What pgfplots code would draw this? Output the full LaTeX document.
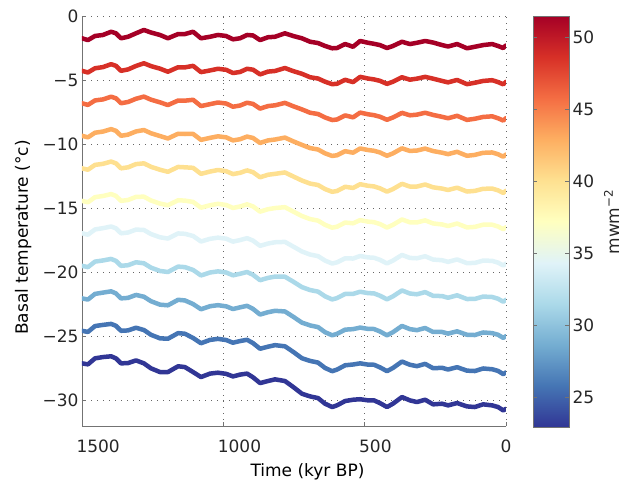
\documentclass[border=0pt]{standalone}
\usepackage{fontspec}
\setmainfont{DejaVu Sans}
\usepackage{pgfplots}
\usepackage{pgfplotstable}
\pgfplotsset{compat=1.18}
\definecolor{c0}{RGB}{165,0,38}
\definecolor{c1}{RGB}{215,48,39}
\definecolor{c2}{RGB}{244,109,67}
\definecolor{c3}{RGB}{253,174,97}
\definecolor{c4}{RGB}{254,224,144}
\definecolor{c5}{RGB}{255,255,191}
\definecolor{c6}{RGB}{224,243,248}
\definecolor{c7}{RGB}{171,217,233}
\definecolor{c8}{RGB}{116,173,209}
\definecolor{c9}{RGB}{69,117,180}
\definecolor{c10}{RGB}{49,54,149}
\pgfplotstableread{
t L0 L1 L2 L3 L4 L5 L6 L7 L8 L9 L10
1500 -1.74 -4.28 -6.81 -9.35 -11.89 -14.43 -16.96 -19.50 -22.04 -24.57 -27.11
1479 -1.88 -4.41 -6.94 -9.47 -12.00 -14.54 -17.07 -19.60 -22.13 -24.66 -27.19
1454 -1.56 -4.08 -6.59 -9.11 -11.62 -14.14 -16.66 -19.17 -21.69 -24.20 -26.72
1426 -1.48 -3.99 -6.51 -9.02 -11.54 -14.05 -16.56 -19.08 -21.59 -24.11 -26.62
1397 -1.23 -3.76 -6.30 -8.83 -11.36 -13.90 -16.43 -18.96 -21.49 -24.03 -26.56
1380 -1.35 -3.89 -6.42 -8.96 -11.50 -14.04 -16.57 -19.11 -21.65 -24.18 -26.72
1362 -1.74 -4.28 -6.81 -9.35 -11.89 -14.43 -16.96 -19.50 -22.04 -24.57 -27.11
1337 -1.62 -4.17 -6.71 -9.26 -11.81 -14.36 -16.90 -19.45 -22.00 -24.54 -27.09
1309 -1.35 -3.90 -6.46 -9.01 -11.56 -14.12 -16.67 -19.22 -21.77 -24.33 -26.88
1281 -1.09 -3.69 -6.29 -8.90 -11.50 -14.10 -16.70 -19.30 -21.91 -24.51 -27.11
1256 -1.29 -3.91 -6.53 -9.15 -11.77 -14.40 -17.02 -19.64 -22.26 -24.88 -27.50
1224 -1.48 -4.11 -6.74 -9.37 -12.00 -14.64 -17.27 -19.90 -22.53 -25.16 -27.79
1196 -1.74 -4.35 -6.95 -9.56 -12.16 -14.77 -17.37 -19.98 -22.58 -25.19 -27.79
1160 -1.41 -4.00 -6.60 -9.19 -11.78 -14.38 -16.97 -19.56 -22.15 -24.75 -27.34
1136 -1.41 -4.01 -6.61 -9.21 -11.81 -14.41 -17.00 -19.60 -22.20 -24.80 -27.40
1107 -1.23 -3.89 -6.54 -9.20 -11.85 -14.51 -17.17 -19.82 -22.48 -25.13 -27.79
1079 -1.74 -4.38 -7.03 -9.67 -12.32 -14.96 -17.60 -20.25 -22.89 -25.54 -28.18
1047 -1.62 -4.25 -6.88 -9.51 -12.14 -14.77 -17.39 -20.02 -22.65 -25.28 -27.91
1019 -1.48 -4.12 -6.75 -9.39 -12.02 -14.66 -17.30 -19.93 -22.57 -25.20 -27.84
990 -1.56 -4.20 -6.83 -9.47 -12.11 -14.75 -17.38 -20.02 -22.66 -25.29 -27.93
966 -1.82 -4.45 -7.08 -9.71 -12.34 -14.98 -17.61 -20.24 -22.87 -25.50 -28.13
941 -1.74 -4.37 -6.99 -9.62 -12.24 -14.87 -17.49 -20.12 -22.74 -25.37 -27.99
916 -1.48 -4.12 -6.77 -9.41 -12.05 -14.70 -17.34 -19.98 -22.62 -25.27 -27.91
895 -1.52 -4.19 -6.86 -9.52 -12.19 -14.86 -17.53 -20.20 -22.86 -25.53 -28.20
870 -1.88 -4.56 -7.23 -9.91 -12.59 -15.27 -17.94 -20.62 -23.30 -25.97 -28.65
842 -1.66 -4.34 -7.03 -9.71 -12.39 -15.08 -17.76 -20.44 -23.12 -25.81 -28.49
817 -1.62 -4.29 -6.97 -9.64 -12.32 -14.99 -17.66 -20.34 -23.01 -25.69 -28.36
782 -1.35 -4.06 -6.78 -9.49 -12.21 -14.92 -17.63 -20.35 -23.06 -25.78 -28.49
753 -1.56 -4.30 -7.04 -9.78 -12.52 -15.26 -17.99 -20.73 -23.47 -26.21 -28.95
722 -1.74 -4.51 -7.29 -10.06 -12.84 -15.61 -18.38 -21.16 -23.93 -26.71 -29.48
693 -2.01 -4.78 -7.55 -10.31 -13.08 -15.85 -18.62 -21.39 -24.15 -26.92 -29.69
665 -2.11 -4.88 -7.65 -10.42 -13.19 -15.97 -18.74 -21.51 -24.28 -27.05 -29.82
640 -2.34 -5.13 -7.92 -10.72 -13.51 -16.30 -19.09 -21.88 -24.68 -27.47 -30.26
615 -2.52 -5.32 -8.12 -10.92 -13.72 -16.52 -19.32 -22.12 -24.92 -27.72 -30.52
598 -2.50 -5.29 -8.08 -10.87 -13.66 -16.45 -19.23 -22.02 -24.81 -27.60 -30.39
569 -2.19 -4.98 -7.76 -10.55 -13.33 -16.12 -18.91 -21.69 -24.48 -27.26 -30.05
541 -2.40 -5.16 -7.91 -10.67 -13.42 -16.18 -18.93 -21.69 -24.44 -27.20 -29.95
516 -1.95 -4.75 -7.54 -10.34 -13.13 -15.93 -18.73 -21.52 -24.32 -27.11 -29.91
488 -2.09 -4.88 -7.67 -10.46 -13.25 -16.05 -18.84 -21.63 -24.42 -27.21 -30.00
467 -2.17 -4.95 -7.74 -10.52 -13.30 -16.09 -18.87 -21.65 -24.43 -27.22 -30.00
446 -2.27 -5.06 -7.86 -10.65 -13.45 -16.24 -19.03 -21.83 -24.62 -27.42 -30.21
421 -2.50 -5.30 -8.10 -10.91 -13.71 -16.51 -19.31 -22.11 -24.92 -27.72 -30.52
400 -2.34 -5.13 -7.92 -10.72 -13.51 -16.30 -19.09 -21.88 -24.68 -27.47 -30.26
368 -2.01 -4.78 -7.56 -10.33 -13.10 -15.88 -18.65 -21.42 -24.19 -26.97 -29.74
340 -2.19 -4.97 -7.75 -10.53 -13.31 -16.10 -18.88 -21.66 -24.44 -27.22 -30.00
315 -2.09 -4.89 -7.70 -10.50 -13.31 -16.11 -18.91 -21.72 -24.52 -27.33 -30.13
286 -1.95 -4.75 -7.55 -10.35 -13.15 -15.95 -18.75 -21.55 -24.35 -27.15 -29.95
258 -2.07 -4.89 -7.72 -10.54 -13.37 -16.19 -19.01 -21.84 -24.66 -27.49 -30.31
226 -2.27 -5.07 -7.87 -10.67 -13.47 -16.27 -19.06 -21.86 -24.66 -27.46 -30.26
205 -2.38 -5.18 -7.98 -10.78 -13.58 -16.39 -19.19 -21.99 -24.79 -27.59 -30.39
173 -2.19 -4.99 -7.79 -10.60 -13.40 -16.20 -19.00 -21.80 -24.61 -27.41 -30.21
138 -2.52 -5.32 -8.11 -10.91 -13.70 -16.50 -19.29 -22.09 -24.88 -27.68 -30.47
110 -2.40 -5.21 -8.02 -10.84 -13.65 -16.46 -19.27 -22.08 -24.90 -27.71 -30.52
81 -2.27 -5.07 -7.88 -10.68 -13.49 -16.29 -19.09 -21.90 -24.70 -27.51 -30.31
49 -2.19 -5.01 -7.83 -10.65 -13.47 -16.29 -19.11 -21.93 -24.75 -27.57 -30.39
28 -2.34 -5.16 -7.98 -10.79 -13.61 -16.43 -19.25 -22.07 -24.88 -27.70 -30.52
10 -2.50 -5.33 -8.16 -10.98 -13.81 -16.64 -19.47 -22.30 -25.12 -27.95 -30.78
0 -2.30 -5.14 -7.97 -10.81 -13.64 -16.48 -19.32 -22.15 -24.99 -27.82 -30.66
}\data
\newcommand{\lbl}{\fontsize{17bp}{20bp}\selectfont}
\pgfplotsset{myline/.style={line width=4.5bp, line join=round, line cap=round}}
\begin{document}
\begin{tikzpicture}
\begin{axis}[
  at={(0,0)}, anchor=south west,
  scale only axis, width=424bp, height=410bp,
  xmin=0, xmax=1500, ymin=-32, ymax=0, x dir=reverse,
  axis x line*=bottom, axis y line*=left,
  axis line style={-, black!55, line width=0.8bp},
  xtick={0,500,1000,1500}, xticklabels={0,500,1000,1500},
  ytick={-30,-25,-20,-15,-10,-5,0},
  yticklabels={−30,−25,−20,−15,−10,−5,0},
  tick align=inside, major tick length=4bp,
  tick style={black!55, line width=0.6bp},
  grid=major,
  grid style={black!60, line width=0.7bp, dash pattern=on 1bp off 5bp},
  every tick label/.append style={font=\lbl, text=black!85},
  xticklabel style={anchor=north west, xshift=-9bp, yshift=-10bp},
  xlabel={Time (kyr BP)},
  ylabel={Basal temperature (°c)},
  xlabel style={at={(axis description cs:0.5318,-0.122)}, anchor=base, font=\lbl},
  ylabel style={at={(axis description cs:-0.1274,0.4598)}, anchor=base, font=\lbl},
]
\addplot[c0, myline] table[x=t,y=L0]{\data};
\addplot[c1, myline] table[x=t,y=L1]{\data};
\addplot[c2, myline] table[x=t,y=L2]{\data};
\addplot[c3, myline] table[x=t,y=L3]{\data};
\addplot[c4, myline] table[x=t,y=L4]{\data};
\addplot[c5, myline] table[x=t,y=L5]{\data};
\addplot[c6, myline] table[x=t,y=L6]{\data};
\addplot[c7, myline] table[x=t,y=L7]{\data};
\addplot[c8, myline] table[x=t,y=L8]{\data};
\addplot[c9, myline] table[x=t,y=L9]{\data};
\addplot[c10, myline] table[x=t,y=L10]{\data};
\end{axis}
\begin{axis}[
  at={(451bp,-1bp)}, anchor=south west,
  scale only axis, width=36bp, height=411bp,
  xmin=0, xmax=1, ymin=22.9, ymax=51.5,
  xtick=\empty,
  ytick={25,30,35,40,45,50}, yticklabels={25,30,35,40,45,50},
  yticklabel pos=right, ytick pos=both,
  tick align=inside, major tick length=4bp,
  tick style={black!55, line width=0.6bp},
  axis line style={black!55, line width=0.8bp},
  yticklabel style={font=\lbl, text=black!85},
  colormap={rdylbu}{rgb255=(49,54,149) rgb255=(69,117,180) rgb255=(116,173,209) rgb255=(171,217,233) rgb255=(224,243,248) rgb255=(255,255,191) rgb255=(254,224,144) rgb255=(253,174,97) rgb255=(244,109,67) rgb255=(215,48,39) rgb255=(165,0,38)},
  point meta min=22.9, point meta max=51.5,
  axis on top,
]
\addplot[surf, shader=interp, mesh/rows=11, mesh/cols=2, point meta=y] coordinates {
(0,22.9) (1,22.9)
(0,25.76) (1,25.76)
(0,28.62) (1,28.62)
(0,31.48) (1,31.48)
(0,34.34) (1,34.34)
(0,37.2) (1,37.2)
(0,40.06) (1,40.06)
(0,42.92) (1,42.92)
(0,45.78) (1,45.78)
(0,48.64) (1,48.64)
(0,51.5) (1,51.5)
};
\end{axis}
\node[rotate=90, anchor=base, font=\lbl, text=black!85] at (537bp,204bp) {mwm\textsuperscript{−2}};
\pgfresetboundingbox
\path[use as bounding box] (-82bp,-55bp) rectangle (540bp,426bp);
\end{tikzpicture}
\end{document}
